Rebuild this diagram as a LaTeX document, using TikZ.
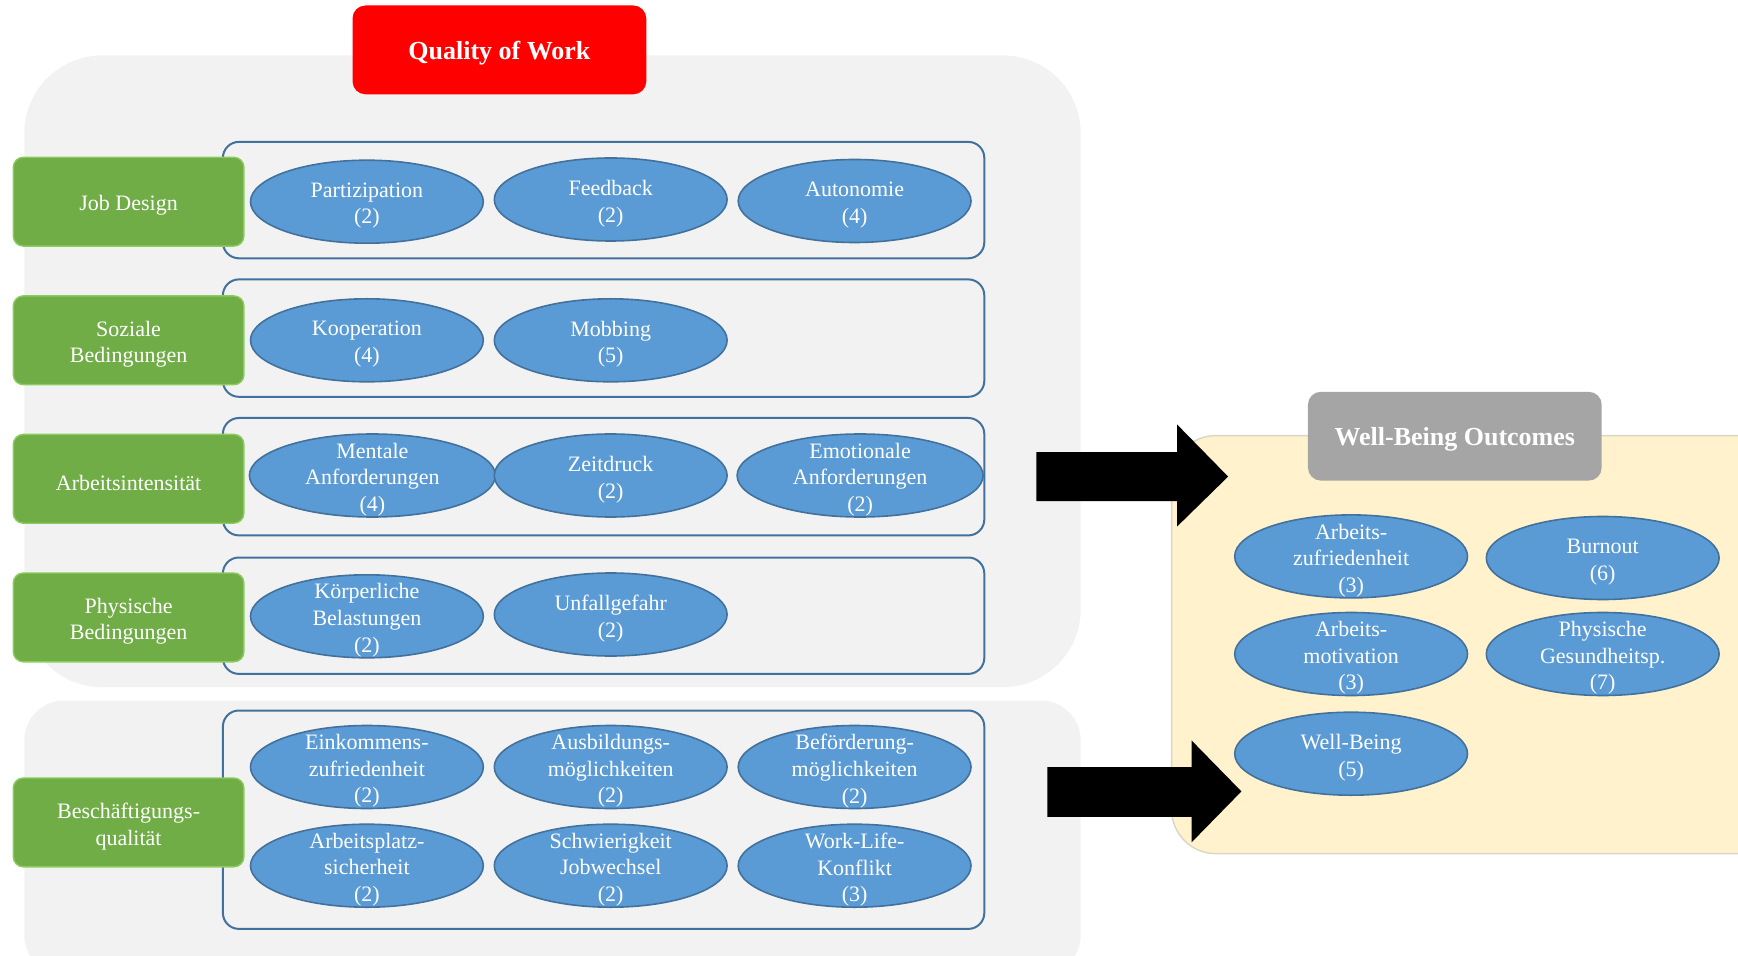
\documentclass[tikz,border=0pt]{standalone}
\usepackage{fontspec}
\setmainfont{Liberation Serif}
\usetikzlibrary{shapes.geometric}
\definecolor{bgGrey}{HTML}{F2F2F2}
\definecolor{qRed}{HTML}{FF0000}
\definecolor{catGreen}{HTML}{70AD47}
\definecolor{catGreenEdge}{HTML}{8CCB5E}
\definecolor{ellBlue}{HTML}{5B9BD5}
\definecolor{ellEdge}{HTML}{41719C}
\definecolor{rowEdge}{HTML}{41719C}
\definecolor{wbYellow}{HTML}{FFF2CC}
\definecolor{wbEdge}{HTML}{D9D6C8}
\definecolor{wbGrey}{HTML}{A5A5A5}
\tikzset{
  areabox/.style={rectangle, fill=bgGrey, draw=none, inner sep=0pt},
  rowbox/.style={rectangle, draw=rowEdge, line width=1pt, rounded corners=8pt, minimum width=380.7pt, inner sep=0pt},
  catbox/.style={rectangle, fill=catGreen, draw=catGreenEdge, line width=0.7pt, rounded corners=5pt,
     minimum width=115.3pt, minimum height=44.4pt, inner sep=0pt},
  etext/.style={text=white, align=center, inner sep=0pt, yshift=-2pt, font=\fontsize{11}{13.3}\selectfont},
  ttext/.style={text=white, align=center, inner sep=0pt, yshift=-1.8pt, font=\fontsize{13}{15}\selectfont\bfseries},
  ell/.style={ellipse, fill=ellBlue, draw=ellEdge, line width=0.8pt, minimum width=116.4pt,
     minimum height=41.5pt, inner sep=0pt},
  ellw/.style={ell, minimum width=123pt},
  titlebox/.style={rectangle, rounded corners=6.5pt, inner sep=0pt,
     minimum width=146.9pt, minimum height=44.4pt},
  bigarrow/.style={fill=black, draw=none}
}
\newcommand{\ellnode}[4][ell]{\node[#1, label={[etext]center:{#4}}] (#2) at #3 {};}
\newcommand{\catnode}[3]{\node[catbox, label={[etext]center:{#3}}] (#1) at #2 {};}
\begin{document}
\begin{tikzpicture}[x=0.5pt,y=-0.5pt]
\useasboundingbox (0,0) rectangle (1738,956);
\clip (0,0) rectangle (1738,956);

% background areas
\node[areabox, rounded corners=39pt, minimum width=528.2pt, minimum height=315.9pt] (qow) at (552.5,371.3) {};
\node[areabox, rounded corners=20pt, minimum width=528.2pt, minimum height=137.3pt] (emp) at (552.5,837.8) {};
\node[rectangle, fill=wbYellow, draw=wbEdge, line width=0.7pt, rounded corners=22pt, minimum width=314.2pt, minimum height=209pt, inner sep=0pt] (wb) at (1485.8,644.6) {};

% titles
\node[titlebox, fill=qRed, label={[ttext]center:Quality of Work}] (qtitle) at (499.4,49.9) {};
\node[titlebox, fill=wbGrey, label={[ttext]center:Well-Being Outcomes}] (wbtitle) at (1454.8,436.2) {};

% row boxes
\node[rowbox, minimum height=58.2pt] (r1) at (603.6,200.1) {};
\node[rowbox, minimum height=58.7pt] (r2) at (603.6,338.1) {};
\node[rowbox, minimum height=58.7pt] (r3) at (603.6,476.7) {};
\node[rowbox, minimum height=58.2pt] (r4) at (603.6,615.7) {};
\node[rowbox, minimum height=109.2pt] (r5) at (603.6,819.7) {};

% category boxes
\catnode{c1}{(128.6,201.7)}{Job Design}
\catnode{c2}{(128.6,340.3)}{Soziale\\Bedingungen}
\catnode{c3}{(128.6,478.8)}{Arbeitsintensität}
\catnode{c4}{(128.6,617.4)}{Physische\\Bedingungen}
\catnode{c5}{(128.6,822.4)}{Beschäftigungs-\\qualität}

% ellipses: job design
\ellnode{e11}{(366.9,201.7)}{Partizipation\\(2)}
\ellnode{e12}{(610.7,199.5)}{Feedback\\(2)}
\ellnode{e13}{(854.6,201.0)}{Autonomie\\(4)}
% soziale
\ellnode{e21}{(366.9,340.3)}{Kooperation\\(4)}
\ellnode{e22}{(610.7,340.3)}{Mobbing\\(5)}
% intensitaet
\ellnode[ellw]{e31}{(372.4,475.5)}{Mentale\\Anforderungen\\(4)}
\ellnode{e32}{(610.7,475.5)}{Zeitdruck\\(2)}
\ellnode[ellw]{e33}{(860.1,475.5)}{Emotionale\\Anforderungen\\(2)}
% physische
\ellnode{e41}{(366.9,616.3)}{Körperliche\\Belastungen\\(2)}
\ellnode{e42}{(610.7,614.5)}{Unfallgefahr\\(2)}
% beschaeftigung
\ellnode{e51}{(366.9,767.0)}{Einkommens-\\zufriedenheit\\(2)}
\ellnode{e52}{(610.7,767.0)}{Ausbildungs-\\möglichkeiten\\(2)}
\ellnode{e53}{(854.6,767.0)}{Beförderung-\\möglichkeiten\\(2)}
\ellnode{e54}{(366.9,865.7)}{Arbeitsplatz-\\sicherheit\\(2)}
\ellnode{e55}{(610.7,865.7)}{Schwierigkeit\\Jobwechsel\\(2)}
\ellnode{e56}{(854.6,865.7)}{Work-Life-\\Konflikt\\(3)}

% outcomes
\ellnode{o1}{(1351.1,556.4)}{Arbeits-\\zufriedenheit\\(3)}
\ellnode{o2}{(1602.7,558.0)}{Burnout\\(6)}
\ellnode{o3}{(1351.1,654.0)}{Arbeits-\\motivation\\(3)}
\ellnode{o4}{(1602.7,654.0)}{Physische\\Gesundheitsp.\\(7)}
\ellnode{o5}{(1351.1,753.7)}{Well-Being\\(5)}

% block arrows
\fill[bigarrow] (1036.4,452.2) -- (1177.1,452.2) -- (1177.1,424.5) -- (1228.1,476.6)
  -- (1177.1,526.5) -- (1177.1,501.0) -- (1036.4,501.0) -- cycle;
\fill[bigarrow] (1047.4,767.0) -- (1191.5,767.0) -- (1191.5,740.4) -- (1241.4,791.4)
  -- (1191.5,842.4) -- (1191.5,816.9) -- (1047.4,816.9) -- cycle;
\end{tikzpicture}
\end{document}
